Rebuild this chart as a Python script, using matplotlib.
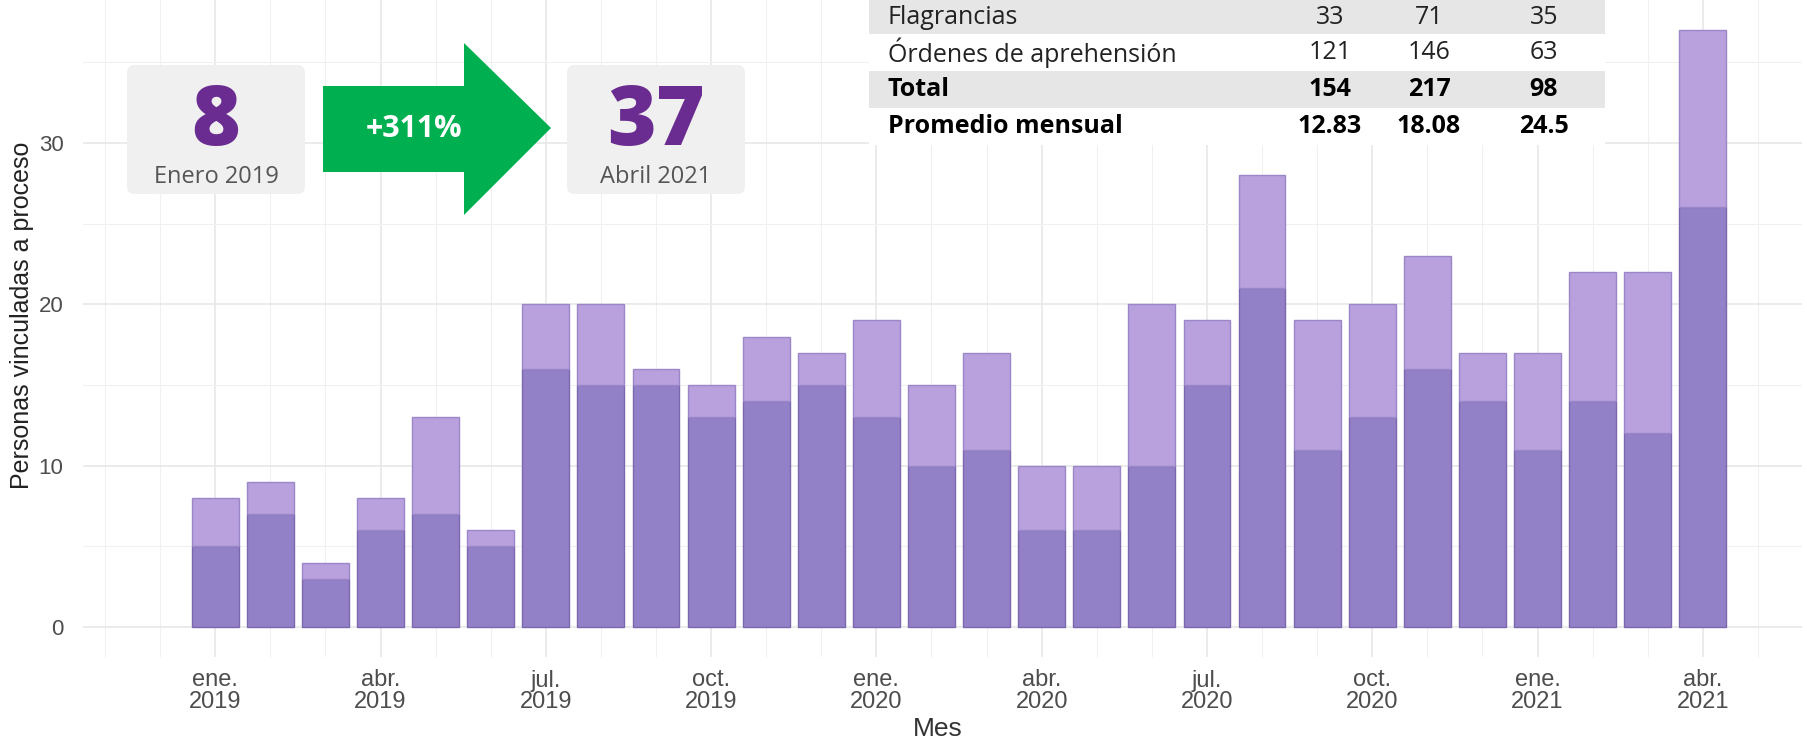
import matplotlib
matplotlib.use("Agg")
import matplotlib.pyplot as plt
import numpy as np
from matplotlib.patches import FancyBboxPatch, Polygon, Rectangle

# ---------------- data ----------------
months = ["ene. 2019", "feb. 2019", "mar. 2019", "abr. 2019", "may. 2019", "jun. 2019",
          "jul. 2019", "ago. 2019", "sep. 2019", "oct. 2019", "nov. 2019", "dic. 2019",
          "ene. 2020", "feb. 2020", "mar. 2020", "abr. 2020", "may. 2020", "jun. 2020",
          "jul. 2020", "ago. 2020", "sep. 2020", "oct. 2020", "nov. 2020", "dic. 2020",
          "ene. 2021", "feb. 2021", "mar. 2021", "abr. 2021"]
ordenes = [5, 7, 3, 6, 7, 5, 16, 15, 15, 13, 14, 15,
           13, 10, 11, 6, 6, 10, 15, 21, 11, 13, 16, 14,
           11, 14, 12, 26]
totales = [8, 9, 4, 8, 13, 6, 20, 20, 16, 15, 18, 17,
           19, 15, 17, 10, 10, 20, 19, 28, 19, 20, 23, 17,
           17, 22, 22, 37]
flagrancias = [t - o for t, o in zip(totales, ordenes)]

tick_labels = ["ene.\n2019", "abr.\n2019", "jul.\n2019", "oct.\n2019",
               "ene.\n2020", "abr.\n2020", "jul.\n2020", "oct.\n2020",
               "ene.\n2021", "abr.\n2021"]
y_ticks = [0, 10, 20, 30]

table_rows = ["Flagrancias", "Órdenes de aprehensión", "Total", "Promedio mensual"]
table_vals = [["33", "71", "35"],
              ["121", "146", "63"],
              ["154", "217", "98"],
              ["12.83", "18.08", "24.5"]]

start_value, start_label = "8", "Enero 2019"
end_value, end_label = "37", "Abril 2021"
change_label = "+311%"

# ---------------- figure ----------------
W, H = 1807, 745
fig = plt.figure(figsize=(W / 100, H / 100), dpi=100)
fig.patch.set_facecolor("white")

ax_l, ax_r, ax_b, ax_t = 83, 1802, 657, 0
ax = fig.add_axes([ax_l / W, 1 - ax_b / H, (ax_r - ax_l) / W, (ax_b - ax_t) / H])
ax.set_facecolor("white")

x = np.arange(len(months))
bw = 0.85
ax.bar(x, ordenes, width=bw, color="#9381C8", edgecolor="#7A67AE", linewidth=1.0, zorder=3)
ax.bar(x, flagrancias, bottom=ordenes, width=bw, color="#B8A1DD", edgecolor="#9A87C8",
       linewidth=1.0, zorder=3)

ax.set_xlim(-2.4, 28.8)
ax.set_ylim(-1.85, 38.85)

ax.set_xticks(np.arange(0, len(months), 3))
ax.set_xticklabels(tick_labels, linespacing=0.95)
ax.set_xticks(np.arange(-2, 29), minor=True)
ax.set_yticks(y_ticks)
ax.set_yticklabels([str(v) for v in y_ticks])
ax.set_yticks([5, 15, 25, 35], minor=True)

ax.grid(True, which="major", color="#E6E6E6", linewidth=1.1, zorder=0)
ax.grid(True, which="minor", color="#F0F0F0", linewidth=0.8, zorder=0)
ax.set_axisbelow(True)
for s in ax.spines.values():
    s.set_visible(False)
ax.tick_params(axis="both", which="both", length=0)
ax.tick_params(axis="x", pad=9, labelsize=17, labelcolor="#4D4D4D")
ax.tick_params(axis="y", pad=14, labelsize=16, labelcolor="#4D4D4D")

fig.text(22 / W, 1 - 315 / H, "Personas vinculadas a proceso", rotation=90,
         ha="center", va="center", fontsize=18, color="#222222", family="Liberation Sans")
fig.text(938 / W, 1 - 729 / H, "Mes", ha="center", va="center", fontsize=19,
         color="#333333", family="Liberation Sans")
for lab in ax.get_xticklabels() + ax.get_yticklabels():
    lab.set_family("Liberation Sans")

# ---------------- overlay (pixel coordinates) ----------------
ov = fig.add_axes([0, 0, 1, 1], zorder=10)
ov.set_xlim(0, W)
ov.set_ylim(H, 0)
ov.axis("off")
ov.patch.set_alpha(0)

OF = "Open Sans"
purple = "#6B2C91"

def kpi_box(x0, x1, y0, y1, value, label):
    ov.add_patch(FancyBboxPatch((x0 + 8, y0 + 8), (x1 - x0) - 16, (y1 - y0) - 16,
                                boxstyle="round,pad=8", facecolor="#F0F0F0",
                                edgecolor="none"))
    cx = (x0 + x1) / 2
    ov.text(cx, 123, value, ha="center", va="center", fontsize=60, fontweight="heavy",
            color=purple, family=OF)
    ov.text(cx, 177, label, ha="center", va="center", fontsize=17, color="#555555",
            family=OF)

kpi_box(127, 305, 65, 194, start_value, start_label)
kpi_box(567, 745, 65, 194, end_value, end_label)

arrow = Polygon([(323, 86), (464, 86), (464, 43), (551, 128), (464, 215),
                 (464, 172), (323, 172)], closed=True, facecolor="#00B050",
                edgecolor="none")
ov.add_patch(arrow)
ov.text(414, 129, change_label, ha="center", va="center", fontsize=22,
        fontweight="bold", color="white", family=OF)

# table
tx0, tx1 = 869, 1605
row_edges = [0, 34, 71, 108, 145]
ov.add_patch(Rectangle((tx0, 0), tx1 - tx0, 145, facecolor="white", edgecolor="none"))
col_x = [1330, 1429, 1544]
for i, name in enumerate(table_rows):
    y0, y1 = row_edges[i], row_edges[i + 1]
    if i % 2 == 0:
        ov.add_patch(Rectangle((tx0, y0), tx1 - tx0, y1 - y0, facecolor="#E6E6E6",
                               edgecolor="none"))
    cy = (y0 + y1) / 2
    bold = i >= 2
    w = "bold" if bold else "normal"
    col = "black" if bold else "#222222"
    ov.text(888, cy, name, ha="left", va="center", fontsize=18, fontweight=w,
            color=col, family=OF)
    for cxv, val in zip(col_x, table_vals[i]):
        ov.text(cxv, cy, val, ha="center", va="center", fontsize=18, fontweight=w,
                color=col, family=OF)

fig.savefig("out.png", dpi=100)
